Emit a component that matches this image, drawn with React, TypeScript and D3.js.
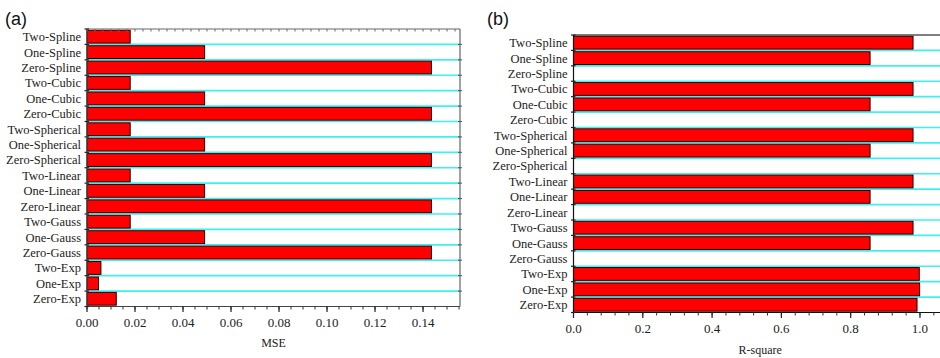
import React, { useEffect, useRef } from "react";
import * as d3 from "d3";

// categories top to bottom
const categories = [
  "Two-Spline", "One-Spline", "Zero-Spline",
  "Two-Cubic", "One-Cubic", "Zero-Cubic",
  "Two-Spherical", "One-Spherical", "Zero-Spherical",
  "Two-Linear", "One-Linear", "Zero-Linear",
  "Two-Gauss", "One-Gauss", "Zero-Gauss",
  "Two-Exp", "One-Exp", "Zero-Exp",
];

const mseValues = [
  0.018, 0.049, 0.1435,
  0.018, 0.049, 0.1435,
  0.018, 0.049, 0.1435,
  0.018, 0.049, 0.1435,
  0.018, 0.049, 0.1435,
  0.0058, 0.0048, 0.0122,
];

const r2Values = [
  0.98, 0.856, 0,
  0.98, 0.856, 0,
  0.98, 0.856, 0,
  0.98, 0.856, 0,
  0.98, 0.856, 0,
  0.998, 0.999, 0.9915,
];

const mseTicks = [0, 0.02, 0.04, 0.06, 0.08, 0.1, 0.12, 0.14];
const r2Ticks = [0, 0.2, 0.4, 0.6, 0.8, 1.0];

const serif = "'Liberation Serif', 'Times New Roman', serif";
const sans = "'Liberation Sans', Arial, sans-serif";

const App = () => {
  const svgRef = useRef<SVGSVGElement>(null);

  useEffect(() => {
    const svg = d3.select(svgRef.current);
    svg.selectAll("*").remove();

    const drawPanel = (opts: any) => {
      const { values, left, right, top, bottom, xMax, ticks, fmt, minorStep, topStep, label, tag, tagX, labelY, tickY, framed, axisColor } = opts;
      const g = svg.append("g");

      const x = d3.scaleLinear().domain([0, xMax]).range([left, right]);
      const y = d3
        .scaleBand()
        .domain(categories)
        .range([top, bottom])
        .paddingInner(0.17)
        .paddingOuter(0.085);
      const step = y.step();
      const bounds = d3.range(1, categories.length).map((i) => top + i * step);

      // cyan gridlines at band boundaries
      g.selectAll(".grid")
        .data(bounds)
        .enter()
        .append("line")
        .attr("x1", left)
        .attr("x2", right)
        .attr("y1", (d) => d)
        .attr("y2", (d) => d)
        .attr("stroke", "#3ff0f0")
        .attr("stroke-width", 1.6);

      // bars
      const rows = categories
        .map((name, i) => ({ name, value: values[i] }))
        .filter((d) => d.value > 0);
      g.selectAll(".bar")
        .data(rows)
        .enter()
        .append("rect")
        .attr("x", x(0))
        .attr("y", (d) => y(d.name)!)
        .attr("width", (d) => x(d.value) - x(0))
        .attr("height", y.bandwidth())
        .attr("fill", "#ff0000")
        .attr("stroke", "#2a0000")
        .attr("stroke-width", 1);

      // frame
      g.append("line")
        .attr("x1", left).attr("x2", right)
        .attr("y1", bottom).attr("y2", bottom)
        .attr("stroke", axisColor).attr("stroke-width", 1.2);
      g.append("line")
        .attr("x1", left).attr("x2", left)
        .attr("y1", top).attr("y2", bottom)
        .attr("stroke", axisColor).attr("stroke-width", 1.2);
      g.append("line")
        .attr("x1", left).attr("x2", right)
        .attr("y1", top).attr("y2", top)
        .attr("stroke", framed ? "#666" : "#000").attr("stroke-width", 1.2);

      if (framed) {
        g.append("line")
          .attr("x1", right).attr("x2", right)
          .attr("y1", top).attr("y2", bottom)
          .attr("stroke", "#666").attr("stroke-width", 1.2);
        // top ticks
        g.selectAll(".ttick")
          .data(d3.range(0, xMax, topStep))
          .enter()
          .append("line")
          .attr("x1", (d) => x(d)).attr("x2", (d) => x(d))
          .attr("y1", top).attr("y2", top + 2.5)
          .attr("stroke", "#666");
        // right ticks
        g.selectAll(".rtick")
          .data(bounds)
          .enter()
          .append("line")
          .attr("x1", right - 2).attr("x2", right + 2)
          .attr("y1", (d) => d).attr("y2", (d) => d)
          .attr("stroke", "#555");
      }

      // left ticks at band boundaries
      g.selectAll(".ltick")
        .data([top, ...bounds, bottom])
        .enter()
        .append("line")
        .attr("x1", left - 2.5).attr("x2", left + 2)
        .attr("y1", (d) => d).attr("y2", (d) => d)
        .attr("stroke", "#222").attr("stroke-width", 1.2);

      // bottom minor ticks
      g.selectAll(".mtick")
        .data(d3.range(0, xMax + 1e-9, minorStep))
        .enter()
        .append("line")
        .attr("x1", (d) => x(d)).attr("x2", (d) => x(d))
        .attr("y1", bottom).attr("y2", bottom + 3)
        .attr("stroke", "#333");

      // bottom major ticks + labels
      g.selectAll(".btick")
        .data(ticks)
        .enter()
        .append("line")
        .attr("x1", (d: number) => x(d)).attr("x2", (d: number) => x(d))
        .attr("y1", bottom).attr("y2", bottom + 5.5)
        .attr("stroke", "#222").attr("stroke-width", 1.2);
      g.selectAll(".blabel")
        .data(ticks)
        .enter()
        .append("text")
        .attr("x", (d: number) => x(d))
        .attr("y", tickY)
        .attr("text-anchor", "middle")
        .style("font-family", serif)
        .style("font-size", "13px")
        .style("fill", "#222")
        .text((d: number) => fmt(d));

      // category labels
      g.selectAll(".ylabel")
        .data(categories)
        .enter()
        .append("text")
        .attr("x", left - 6)
        .attr("y", (d) => y(d)! + y.bandwidth() / 2)
        .attr("dy", "0.35em")
        .attr("text-anchor", "end")
        .style("font-family", serif)
        .style("font-size", "12.5px")
        .style("fill", "#222")
        .text((d) => d);

      // axis title
      g.append("text")
        .attr("x", (left + right) / 2)
        .attr("y", labelY)
        .attr("text-anchor", "middle")
        .style("font-family", serif)
        .style("font-size", "12px")
        .style("fill", "#222")
        .text(label);

      // panel tag
      g.append("text")
        .attr("x", tagX)
        .attr("y", 25)
        .style("font-family", sans)
        .style("font-size", "18px")
        .style("fill", "#111")
        .text(tag);
    };

    drawPanel({
      values: mseValues,
      left: 87,
      right: 460,
      top: 29,
      bottom: 306.5,
      xMax: 0.1554,
      ticks: mseTicks,
      fmt: d3.format(".2f"),
      minorStep: 0.005,
      topStep: 0.02 / 6,
      label: "MSE",
      tag: "(a)",
      tagX: 5,
      labelY: 347,
      tickY: 327,
      framed: true,
      axisColor: "#444",
    });

    drawPanel({
      values: r2Values,
      left: 573.5,
      right: 947,
      top: 35,
      bottom: 312.5,
      xMax: 1.078,
      ticks: r2Ticks,
      fmt: d3.format(".1f"),
      minorStep: 0.04,
      topStep: 0.04,
      label: "R-square",
      tag: "(b)",
      tagX: 487,
      labelY: 354,
      tickY: 333,
      framed: false,
      axisColor: "#111",
    });
  }, []);

  return (
    <div style={{ position: "absolute", left: 0, top: 0 }}>
      <svg ref={svgRef} width={940} height={358} style={{ display: "block", background: "#fff" }}></svg>
    </div>
  );
};

export default App;
